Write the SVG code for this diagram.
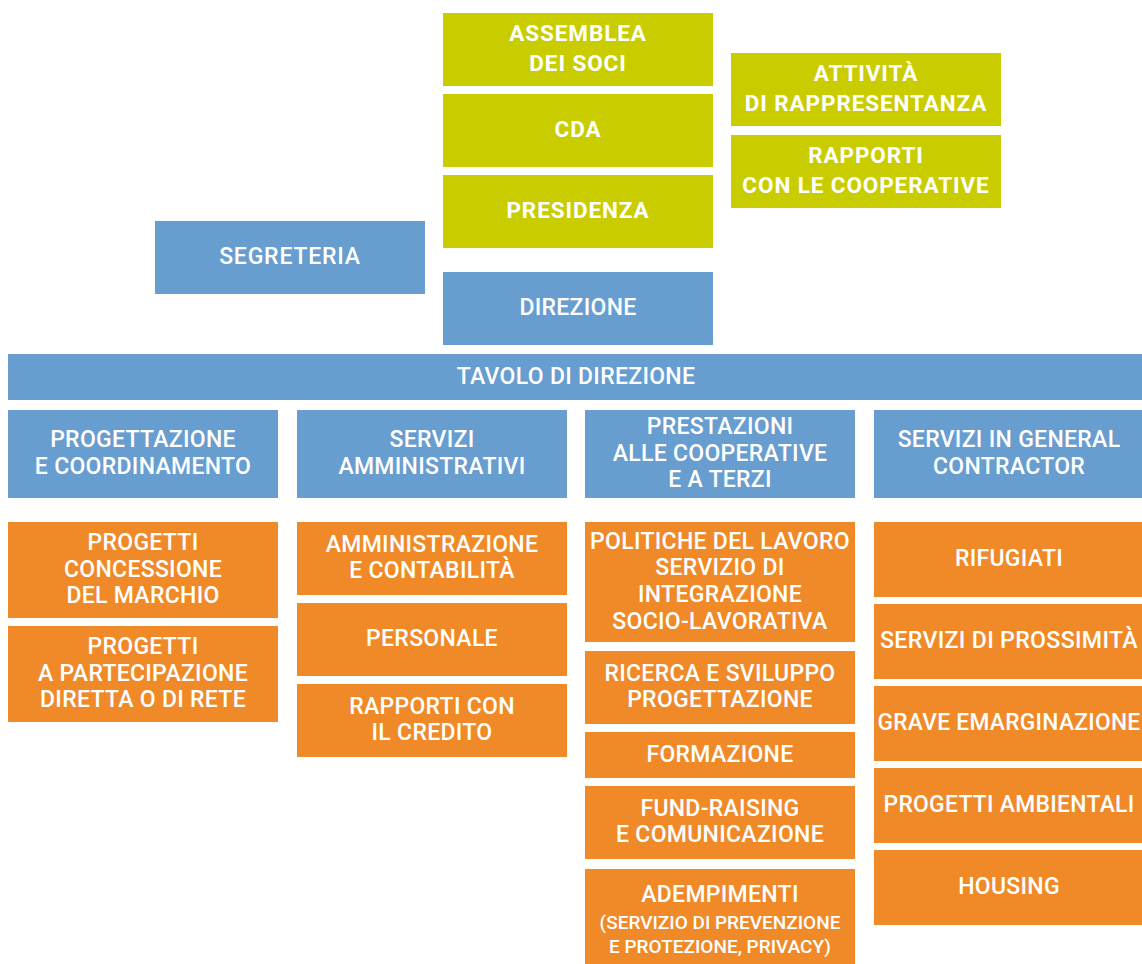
<svg xmlns="http://www.w3.org/2000/svg" width="1142" height="964" viewBox="0 0 1142 964">
<style>
.g{fill:#C9CD00}
.b{fill:#689DCF}
.o{fill:#F08A28}
text{font-family:Roboto,"Liberation Sans",sans-serif;fill:#fff;text-anchor:middle;font-size:23px;font-weight:500;letter-spacing:0.3px}
.tg{font-weight:700;font-size:22.5px;letter-spacing:0.9px}
.sm{font-size:19px;letter-spacing:0}
</style>
<rect width="1142" height="964" fill="#fff"/>
<g id="connectors"/>
<g id="assemblea"><rect class="g" x="443" y="13" width="270" height="73"/><text class="tg" x="578" y="41">ASSEMBLEA</text><text class="tg" x="578" y="70.5">DEI SOCI</text></g>
<g id="cda"><rect class="g" x="443" y="94" width="270" height="73"/><text class="tg" x="578" y="137">CDA</text></g>
<g id="presidenza"><rect class="g" x="443" y="175" width="270" height="73"/><text class="tg" x="578" y="218">PRESIDENZA</text></g>
<g id="attivita"><rect class="g" x="731" y="53" width="270" height="73"/><text class="tg" x="866" y="81">ATTIVITÀ</text><text class="tg" x="866" y="110.5">DI RAPPRESENTANZA</text></g>
<g id="rapporti-coop"><rect class="g" x="731" y="135" width="270" height="73"/><text class="tg" x="866" y="163">RAPPORTI</text><text class="tg" x="866" y="192.5">CON LE COOPERATIVE</text></g>
<g id="segreteria"><rect class="b" x="155" y="221" width="270" height="73"/><text x="290" y="264" style="letter-spacing:0.8px">SEGRETERIA</text></g>
<g id="direzione"><rect class="b" x="443" y="272" width="270" height="73"/><text x="578" y="315">DIREZIONE</text></g>
<g id="tavolo"><rect class="b" x="8" y="354" width="1136" height="46"/><text x="576" y="383.5">TAVOLO DI DIREZIONE</text></g>
<g id="progettazione"><rect class="b" x="8" y="410" width="270" height="88"/><text x="143" y="447.2">PROGETTAZIONE</text><text x="143" y="473.9">E COORDINAMENTO</text></g>
<g id="servizi-amm"><rect class="b" x="297" y="410" width="270" height="88"/><text x="432" y="447.2">SERVIZI</text><text x="432" y="473.9">AMMINISTRATIVI</text></g>
<g id="prestazioni"><rect class="b" x="585" y="410" width="270" height="88"/><text x="720" y="433.8">PRESTAZIONI</text><text x="720" y="460.5">ALLE COOPERATIVE</text><text x="720" y="487.2">E A TERZI</text></g>
<g id="general-contractor"><rect class="b" x="874" y="410" width="270" height="88"/><text x="1009" y="447.2">SERVIZI IN GENERAL</text><text x="1009" y="473.9">CONTRACTOR</text></g>
<g id="progetti-marchio"><rect class="o" x="8" y="522" width="270" height="96"/><text x="143" y="549.8">PROGETTI</text><text x="143" y="576.5">CONCESSIONE</text><text x="143" y="603.2">DEL MARCHIO</text></g>
<g id="progetti-partecipazione"><rect class="o" x="8" y="626" width="270" height="96"/><text x="143" y="653.8">PROGETTI</text><text x="143" y="680.5">A PARTECIPAZIONE</text><text x="143" y="707.2">DIRETTA O DI RETE</text></g>
<g id="amministrazione"><rect class="o" x="297" y="522" width="270" height="73"/><text x="432" y="551.7">AMMINISTRAZIONE</text><text x="432" y="578.4">E CONTABILITÀ</text></g>
<g id="personale"><rect class="o" x="297" y="603" width="270" height="73"/><text x="432" y="646">PERSONALE</text></g>
<g id="rapporti-credito"><rect class="o" x="297" y="684" width="270" height="73"/><text x="432" y="713.7">RAPPORTI CON</text><text x="432" y="740.4">IL CREDITO</text></g>
<g id="politiche-lavoro"><rect class="o" x="585" y="522" width="270" height="120"/><text x="720" y="548.5" textLength="260" lengthAdjust="spacingAndGlyphs">POLITICHE DEL LAVORO</text><text x="720" y="575.2">SERVIZIO DI</text><text x="720" y="601.9">INTEGRAZIONE</text><text x="720" y="628.6">SOCIO-LAVORATIVA</text></g>
<g id="ricerca"><rect class="o" x="585" y="651" width="270" height="73"/><text x="720" y="680.7">RICERCA E SVILUPPO</text><text x="720" y="707.4">PROGETTAZIONE</text></g>
<g id="formazione"><rect class="o" x="585" y="732" width="270" height="46"/><text x="720" y="761.5">FORMAZIONE</text></g>
<g id="fund-raising"><rect class="o" x="585" y="786" width="270" height="73"/><text x="720" y="815.7">FUND-RAISING</text><text x="720" y="842.4">E COMUNICAZIONE</text></g>
<g id="adempimenti"><rect class="o" x="585" y="869" width="270" height="95"/><text x="720" y="902">ADEMPIMENTI</text><text class="sm" x="720" y="929.3">(SERVIZIO DI PREVENZIONE</text><text class="sm" x="720" y="952.7">E PROTEZIONE, PRIVACY)</text></g>
<g id="rifugiati"><rect class="o" x="874" y="522" width="270" height="75"/><text x="1009" y="566">RIFUGIATI</text></g>
<g id="prossimita"><rect class="o" x="874" y="604" width="270" height="75"/><text x="1009" y="648" textLength="258" lengthAdjust="spacingAndGlyphs">SERVIZI DI PROSSIMITÀ</text></g>
<g id="emarginazione"><rect class="o" x="874" y="686" width="270" height="75"/><text x="1009" y="730" textLength="263" lengthAdjust="spacingAndGlyphs">GRAVE EMARGINAZIONE</text></g>
<g id="ambientali"><rect class="o" x="874" y="768" width="270" height="75"/><text x="1009" y="812" textLength="251" lengthAdjust="spacingAndGlyphs">PROGETTI AMBIENTALI</text></g>
<g id="housing"><rect class="o" x="874" y="850" width="270" height="75"/><text x="1009" y="894">HOUSING</text></g>
</svg>
